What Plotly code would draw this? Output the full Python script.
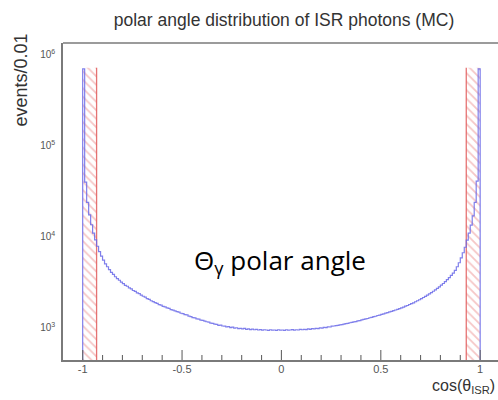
import math
import plotly.graph_objects as go

# ---------------- data ----------------
bin_start = -1.0
bin_width = 0.01
counts_neg = [
    700000, 40000, 24000, 17500, 13600, 11000, 9300, 7900, 6900, 6150,
    5550, 5050, 4700, 4380, 4080, 3870, 3650, 3480, 3340, 3180,
    3070, 2940, 2870, 2760, 2690, 2580, 2520, 2430, 2380, 2290,
    2230, 2180, 2100, 2060, 1990, 1950, 1900, 1860, 1800, 1780,
    1730, 1700, 1660, 1640, 1590, 1570, 1540, 1510, 1490, 1450,
    1440, 1400, 1390, 1350, 1330, 1300, 1290, 1260, 1250, 1220,
    1210, 1190, 1170, 1160, 1130, 1125, 1100, 1095, 1070, 1075,
    1050, 1045, 1030, 1035, 1010, 1020, 995, 1005, 985, 990,
    975, 990, 965, 975, 960, 970, 955, 965, 950, 960,
    945, 955, 950, 940, 955, 945, 950, 940, 955, 945,
]
counts_pos = [
    950, 940, 955, 945, 950, 960, 945, 955, 950, 965,
    955, 965, 960, 975, 965, 985, 975, 990, 985, 1000,
    995, 1015, 1010, 1030, 1025, 1045, 1050, 1060, 1070, 1080,
    1090, 1100, 1115, 1120, 1140, 1150, 1165, 1175, 1195, 1205,
    1225, 1240, 1260, 1270, 1295, 1310, 1330, 1345, 1370, 1385,
    1410, 1430, 1455, 1470, 1500, 1520, 1550, 1575, 1600, 1630,
    1665, 1690, 1735, 1765, 1810, 1850, 1890, 1940, 1990, 2040,
    2100, 2160, 2220, 2290, 2370, 2440, 2530, 2620, 2720, 2830,
    2950, 3080, 3220, 3390, 3570, 3780, 4010, 4300, 4700, 5200,
    5900, 6700, 7700, 9200, 11000, 13500, 17000, 24000, 41000, 700000,
]
counts = counts_neg + counts_pos

cut_value = 0.93
cut_box_top = 720000
floor_value = 100

x_tick_vals = [-1, -0.5, 0, 0.5, 1]
x_tick_text = ["-1", "-0.5", "0", "0.5", "1"]
x_minor_vals = [-0.9, -0.8, -0.7, -0.6, -0.4, -0.3, -0.2, -0.1,
                0.1, 0.2, 0.3, 0.4, 0.6, 0.7, 0.8, 0.9]
y_tick_vals = [1e3, 1e4, 1e5, 1e6]
y_tick_text = ["10<sup>3</sup>", "10<sup>4</sup>", "10<sup>5</sup>", "10<sup>6</sup>"]
y_minor_vals = [m * 10 ** e for e in (2, 3, 4, 5) for m in range(2, 10)]

title_text = "polar angle distribution of ISR photons (MC)"
y_title = "events/0.01"
x_title = "cos(θ<sub>ISR</sub>)"
label_text = "Θ<sub>γ</sub> polar angle"

# ---------------- build ----------------
n = len(counts)
edges = [bin_start + bin_width * i for i in range(n + 1)]
hx = [edges[0]] + edges[:n] + [edges[n], edges[n]]
hy = [floor_value] + counts + [counts[-1], floor_value]

RED = "rgba(225,90,90,0.85)"
BLUE = "rgba(105,105,232,0.85)"
AX = "#7a7a7a"
TK = "#666666"
X_RANGE = [-1.099, 1.0897]
Y_RANGE = [2.648, 6.13]
PW, PH = 435.0, 317.0

fig = go.Figure()

# hatched cut regions
for lo, hi in ((-1.0, -cut_value), (cut_value, 1.0)):
    fig.add_trace(go.Scatter(
        x=[lo, lo, hi, hi, lo],
        y=[floor_value, cut_box_top, cut_box_top, floor_value, floor_value],
        mode="lines", line=dict(width=0, color="rgba(0,0,0,0)"),
        fill="toself", fillcolor="rgba(0,0,0,0)",
        fillpattern=dict(shape="\\", fgcolor="rgba(232,120,120,0.85)",
                         bgcolor="rgba(255,255,255,0)", size=6, solidity=0.3),
        hoverinfo="skip", showlegend=False))
for xv in (-cut_value, cut_value):
    fig.add_trace(go.Scatter(
        x=[xv, xv], y=[floor_value, cut_box_top], mode="lines",
        line=dict(color=RED, width=1.3), hoverinfo="skip", showlegend=False))

# histogram
fig.add_trace(go.Scatter(
    x=hx, y=hy, mode="lines", line=dict(color=BLUE, width=1.2, shape="hv"),
    hoverinfo="skip", showlegend=False))

fig.update_layout(
    width=498, height=400,
    margin=dict(l=63, r=0, t=43, b=40),
    paper_bgcolor="white", plot_bgcolor="white",
    font=dict(family="Liberation Sans, Arial, sans-serif", color="#444"),
    title=dict(text=title_text, x=284 / 498, xanchor="center",
               y=1 - 20 / 400, yanchor="middle",
               font=dict(size=17.5, color="#333")),
    showlegend=False,
    xaxis=dict(range=X_RANGE, showgrid=False, zeroline=False,
               showline=True, linecolor=AX, linewidth=1.5,
               tickvals=x_tick_vals, ticktext=x_tick_text, ticks="",
               ticklabelstandoff=-2,
               tickfont=dict(size=11, color="#555")),
    yaxis=dict(type="log", range=Y_RANGE, showgrid=False, zeroline=False,
               showline=True, linecolor=AX, linewidth=1.5,
               tickvals=y_tick_vals, ticktext=y_tick_text, ticks="",
               ticklabelstandoff=4,
               tickfont=dict(size=10, color="#555")),
)

# tick marks drawn through the axes' own scales
tick_line = dict(color=TK, width=1.1)
for v in x_tick_vals:
    fig.add_shape(type="line", xref="x", yref="y domain", x0=v, x1=v,
                  y0=0, y1=10 / PH, line=tick_line)
for v in x_minor_vals:
    fig.add_shape(type="line", xref="x", yref="y domain", x0=v, x1=v,
                  y0=0, y1=5 / PH, line=tick_line)
for v in y_tick_vals:
    lv = math.log10(v)
    fig.add_shape(type="line", xref="x domain", yref="y", x0=0, x1=12 / PW,
                  y0=lv, y1=lv, line=tick_line)
for v in y_minor_vals:
    lv = math.log10(v)
    if Y_RANGE[0] <= lv <= Y_RANGE[1]:
        fig.add_shape(type="line", xref="x domain", yref="y", x0=0, x1=6 / PW,
                      y0=lv, y1=lv, line=tick_line)

# top frame line
fig.add_shape(type="line", xref="paper", yref="paper", x0=0, x1=1, y0=1, y1=1,
              line=dict(color=AX, width=1.5))

fig.add_annotation(text=y_title, xref="paper", yref="paper",
                   x=(20 - 63) / PW, y=(360 - 32) / PH, xanchor="center",
                   yanchor="top", textangle=-90, showarrow=False,
                   font=dict(size=18, color="#333"))
fig.add_annotation(text=x_title, xref="paper", yref="paper",
                   x=(497 - 63) / PW, y=-(386 - 360) / PH, xanchor="right",
                   yanchor="middle", showarrow=False,
                   font=dict(size=16, color="#333"))
fig.add_annotation(text=label_text, xref="paper", yref="paper",
                   x=(280 - 63) / PW, y=(360 - 261) / PH, xanchor="center",
                   yanchor="middle", showarrow=False,
                   font=dict(family="Open Sans, Lato, sans-serif", size=26,
                             color="black"))

fig.write_html("out.html")
